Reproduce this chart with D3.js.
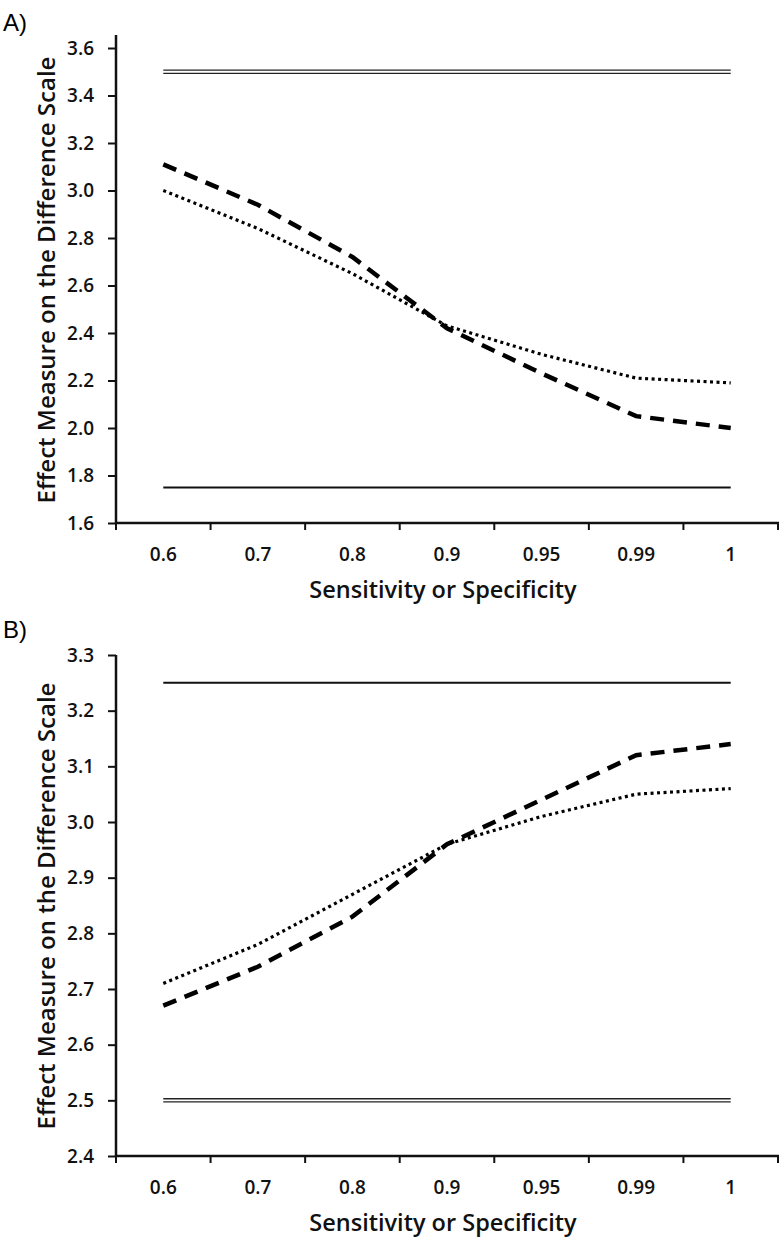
<!DOCTYPE html>
<html><head><meta charset="utf-8">
<script src="https://cdn.jsdelivr.net/npm/d3@7"></script>
<style>
body{margin:0;background:#fff;}
text{font-family:"Open Sans",sans-serif;}
</style></head>
<body><svg id="c" width="784" height="1240"></svg>
<script>
const categories = ["0.6","0.7","0.8","0.9","0.95","0.99","1"];
const aDashed = [3.11,2.94,2.72,2.42,2.23,2.05,2.00];
const aDotted = [3.00,2.84,2.65,2.43,2.31,2.21,2.19];
const bDashed = [2.67,2.74,2.83,2.96,3.04,3.12,3.14];
const bDotted = [2.71,2.78,2.87,2.96,3.01,3.05,3.06];
const aTicks = [1.6,1.8,2.0,2.2,2.4,2.6,2.8,3.0,3.2,3.4,3.6];
const bTicks = [2.4,2.5,2.6,2.7,2.8,2.9,3.0,3.1,3.2,3.3];
const aRefDouble = 3.5, aRefSingle = 1.75;
const bRefDouble = 2.5, bRefSingle = 3.25;
const xTitle = "Sensitivity or Specificity";
const yTitle = "Effect Measure on the Difference Scale";

const svg = d3.select("#c");

function panel(o){
  const g = svg.append("g");
  const x = d3.scaleBand().domain(categories).range([116,778]).padding(0);
  const y = d3.scaleLinear().domain(o.domain).range([o.bottom,o.top]);
  const cx = c => x(c)+x.bandwidth()/2;

  g.append("text").attr("x",3).attr("y",o.labelY)
    .style("font-family","Liberation Sans, Arial, sans-serif").attr("font-size",24).text(o.label);

  const ya = g.append("g").attr("transform","translate(116,0)")
    .call(d3.axisLeft(y).tickValues(o.ticks).tickFormat(d3.format(".1f")).tickSize(8).tickPadding(14));
  ya.select(".domain").remove();
  ya.selectAll(".tick line").attr("stroke","#111").attr("stroke-width",2);
  ya.selectAll(".tick text").attr("font-size",19).attr("font-weight",600).attr("fill","#111");
  g.append("line").attr("x1",116).attr("x2",116).attr("y1",o.top-o.extra).attr("y2",o.bottom+1)
    .attr("stroke","#111").attr("stroke-width",2.5);

  g.append("line").attr("x1",115).attr("x2",779).attr("y1",o.bottom).attr("y2",o.bottom)
    .attr("stroke","#111").attr("stroke-width",2.5);
  const bounds = categories.map(c=>x(c)).concat([x.range()[1]]);
  g.selectAll(".xt").data(bounds).enter().append("line")
    .attr("x1",d=>d).attr("x2",d=>d).attr("y1",o.bottom).attr("y2",o.bottom+7)
    .attr("stroke","#111").attr("stroke-width",2);
  g.selectAll(".xl").data(categories).enter().append("text")
    .attr("x",d=>cx(d)).attr("y",o.bottom+38).attr("text-anchor","middle")
    .attr("font-size",19).attr("font-weight",600).attr("fill","#111").text(d=>d);
  g.append("text").attr("x",443).attr("y",o.bottom+75).attr("text-anchor","middle")
    .attr("font-size",23.5).attr("font-weight",600).attr("fill","#111").text(xTitle);
  g.append("text").attr("transform",`translate(55,${o.titleY}) rotate(-90)`).attr("text-anchor","middle")
    .attr("font-size",24).attr("font-weight",600).attr("fill","#111").text(yTitle);

  const x0 = cx(categories[0]), x1 = cx(categories[categories.length-1]);
  [-1.6,1.6].forEach(off=>{
    g.append("line").attr("x1",x0).attr("x2",x1).attr("y1",y(o.dbl)+off).attr("y2",y(o.dbl)+off)
      .attr("stroke","#222").attr("stroke-width",1.3);
  });
  g.append("line").attr("x1",x0).attr("x2",x1).attr("y1",y(o.sgl)).attr("y2",y(o.sgl))
    .attr("stroke","#111").attr("stroke-width",2);

  const line = d3.line().x((d,i)=>cx(categories[i])).y(d=>y(d));
  g.append("path").datum(o.dotted).attr("d",line).attr("fill","none").attr("stroke","#000")
    .attr("stroke-width",3.2).attr("stroke-dasharray","3,3.5");
  g.append("path").datum(o.dashed).attr("d",line).attr("fill","none").attr("stroke","#000")
    .attr("stroke-width",4.5).attr("stroke-dasharray","14,9");
}

panel({label:"A)",labelY:31,domain:[1.6,3.6],top:48,bottom:523,extra:13,ticks:aTicks,
  dbl:aRefDouble,sgl:aRefSingle,dashed:aDashed,dotted:aDotted,titleY:280});
panel({label:"B)",labelY:638,domain:[2.4,3.3],top:655,bottom:1156,extra:0,ticks:bTicks,
  dbl:bRefDouble,sgl:bRefSingle,dashed:bDashed,dotted:bDotted,titleY:906});
</script></body></html>
